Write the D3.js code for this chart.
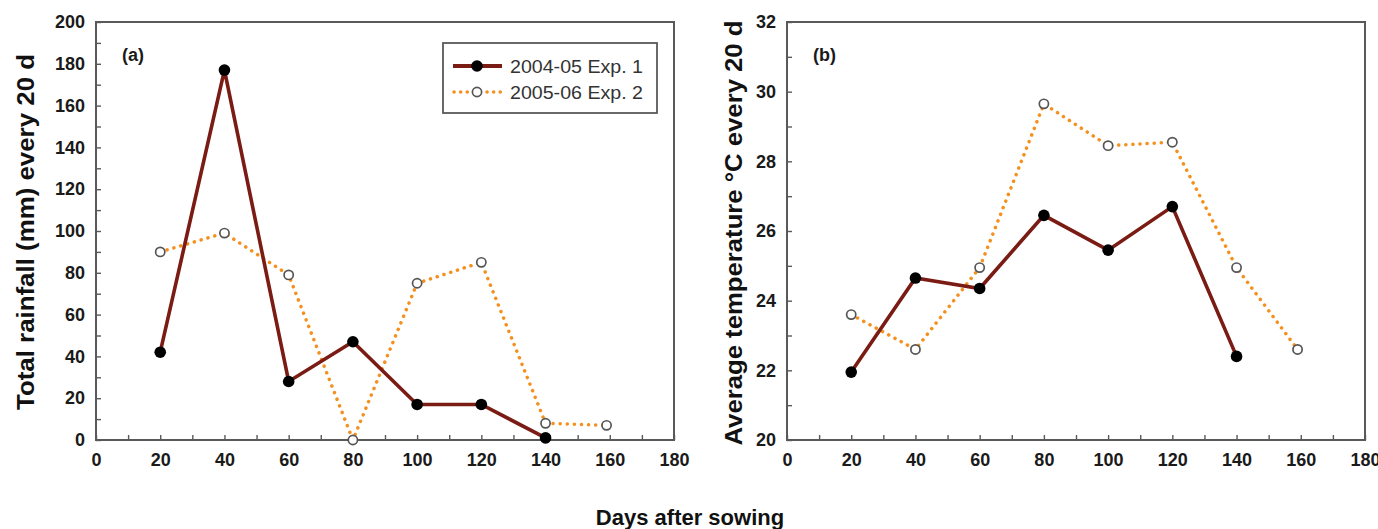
<!DOCTYPE html>
<html>
<head>
<meta charset="utf-8">
<script src="https://cdn.jsdelivr.net/npm/d3@7"></script>
<style>
  body { margin: 0; background: #fff; }
  text { font-family: Arial, "Liberation Sans", sans-serif; }
</style>
</head>
<body>
<div class="canvas"></div>
<script>
// data
const days = [20, 40, 60, 80, 100, 120, 140];
const days2 = [20, 40, 60, 80, 100, 120, 140, 159];
const rainExp1 = [42, 177, 28, 47, 17, 17, 1];
const rainExp2 = [90, 99, 79, 0, 75, 85, 8, 7];
const tempExp1 = [21.95, 24.65, 24.35, 26.45, 25.45, 26.7, 22.4];
const tempExp2 = [23.6, 22.6, 24.95, 29.65, 28.45, 28.55, 24.95, 22.6];
const seriesNames = ['2004-05 Exp. 1', '2005-06 Exp. 2'];
const xTicks = [0, 20, 40, 60, 80, 100, 120, 140, 160, 180];

const svg = d3.select('.canvas')
  .append('svg')
  .attr('width', 1378)
  .attr('height', 529);

const dark = '#7a1c14';
const orange = '#f5901f';
const frameCol = '#595959';

const drawPanel = (opts) => {
  const g = svg.append('g');
  const x = d3.scaleLinear().domain([0, 180]).range([opts.left, opts.left + 578]);
  const y = d3.scaleLinear().domain(opts.yDomain).range([440, 22]);

  // frame
  g.append('rect')
    .attr('x', x(0)).attr('y', y.range()[1])
    .attr('width', x(180) - x(0)).attr('height', 440 - 22)
    .attr('fill', 'none').attr('stroke', frameCol).attr('stroke-width', 2);

  // x axis, ticks inward
  const xAxis = d3.axisBottom(x).tickValues(d3.range(0, 181, 10))
    .tickSize(-5).tickPadding(13)
    .tickFormat(d => xTicks.includes(d) ? d : '');
  const xg = g.append('g').attr('transform', 'translate(0,440)').call(xAxis);
  xg.select('.domain').remove();
  xg.selectAll('line').attr('stroke', frameCol).attr('stroke-width', 1.4);
  xg.selectAll('text').attr('font-size', 18).attr('font-weight', 'bold').attr('fill', '#1a1a1a')
    .attr('font-family', 'Arial, "Liberation Sans", sans-serif');

  // y axis, ticks inward
  const yAxis = d3.axisLeft(y).tickValues(d3.range(opts.yDomain[0], opts.yDomain[1] + 0.001, opts.minor))
    .tickSize(-5).tickPadding(11)
    .tickFormat(d => opts.yTicks.includes(Math.round(d * 100) / 100) ? d : '');
  const yg = g.append('g').attr('transform', `translate(${x(0)},0)`).call(yAxis);
  yg.select('.domain').remove();
  yg.selectAll('line').attr('stroke', frameCol).attr('stroke-width', 1.4);
  yg.selectAll('text').attr('font-size', 18).attr('font-weight', 'bold').attr('fill', '#1a1a1a')
    .attr('font-family', 'Arial, "Liberation Sans", sans-serif');

  // lines
  const line = d3.line().x(d => x(d[0])).y(d => y(d[1]));
  const s2 = d3.zip(days2, opts.s2);
  const s1 = d3.zip(days, opts.s1);

  g.append('path').datum(s2).attr('d', line)
    .attr('fill', 'none').attr('stroke', orange).attr('stroke-width', 3.5)
    .attr('stroke-dasharray', '0.1,7').attr('stroke-linecap', 'round');
  g.append('path').datum(s1).attr('d', line)
    .attr('fill', 'none').attr('stroke', dark).attr('stroke-width', 3.6);

  g.selectAll('.m2').data(s2).enter().append('circle')
    .attr('cx', d => x(d[0])).attr('cy', d => y(d[1])).attr('r', 4.6)
    .attr('fill', '#fff').attr('stroke', '#555').attr('stroke-width', 1.7);
  g.selectAll('.m1').data(s1).enter().append('circle')
    .attr('cx', d => x(d[0])).attr('cy', d => y(d[1])).attr('r', 5.8)
    .attr('fill', '#000');

  // panel label
  g.append('text').attr('x', x(0) + 26).attr('y', 61)
    .attr('font-size', 18).attr('font-weight', 'bold').attr('fill', '#1a1a1a').text(opts.label);

  // y title
  g.append('text')
    .attr('transform', `translate(${opts.titleX},${opts.titleY}) rotate(-90)`)
    .attr('text-anchor', 'middle')
    .attr('font-size', 24).attr('font-weight', 'bold').attr('fill', '#111')
    .attr('textLength', opts.titleLen).attr('lengthAdjust', 'spacingAndGlyphs')
    .text(opts.title);

  return { g, x, y };
};

drawPanel({
  left: 96, yDomain: [0, 200], minor: 10,
  yTicks: d3.range(0, 201, 20),
  s1: rainExp1, s2: rainExp2, label: '(a)',
  title: 'Total rainfall (mm) every 20 d', titleX: 34, titleY: 232, titleLen: 356
});

drawPanel({
  left: 787, yDomain: [20, 32], minor: 1,
  yTicks: d3.range(20, 33, 2),
  s1: tempExp1, s2: tempExp2, label: '(b)',
  title: 'Average temperature \u00B0C every 20 d', titleX: 742, titleY: 233, titleLen: 425
});

// legend
const lg = svg.append('g').attr('transform', 'translate(443,43)');
lg.append('rect').attr('width', 214).attr('height', 70)
  .attr('fill', '#fff').attr('stroke', frameCol).attr('stroke-width', 1.8);
seriesNames.forEach((name, i) => {
  const yy = 23 + i * 26;
  if (i === 0) {
    lg.append('line').attr('x1', 10).attr('x2', 59).attr('y1', yy).attr('y2', yy)
      .attr('stroke', dark).attr('stroke-width', 4);
    lg.append('circle').attr('cx', 34).attr('cy', yy).attr('r', 5.8).attr('fill', '#000');
  } else {
    lg.append('line').attr('x1', 11).attr('x2', 59).attr('y1', yy).attr('y2', yy)
      .attr('stroke', orange).attr('stroke-width', 3.5)
      .attr('stroke-dasharray', '0.1,6.5').attr('stroke-linecap', 'round');
    lg.append('circle').attr('cx', 34).attr('cy', yy).attr('r', 4.6)
      .attr('fill', '#fff').attr('stroke', '#555').attr('stroke-width', 1.7);
  }
  lg.append('text').attr('x', 67).attr('y', yy + 7)
    .attr('font-size', 19).attr('fill', '#333')
    .attr('textLength', 133).attr('lengthAdjust', 'spacingAndGlyphs')
    .text(name);
});

// x title
svg.append('text').attr('x', 690).attr('y', 525)
  .attr('text-anchor', 'middle').attr('font-size', 22).attr('font-weight', 'bold')
  .attr('fill', '#111').text('Days after sowing');
</script>
</body>
</html>
